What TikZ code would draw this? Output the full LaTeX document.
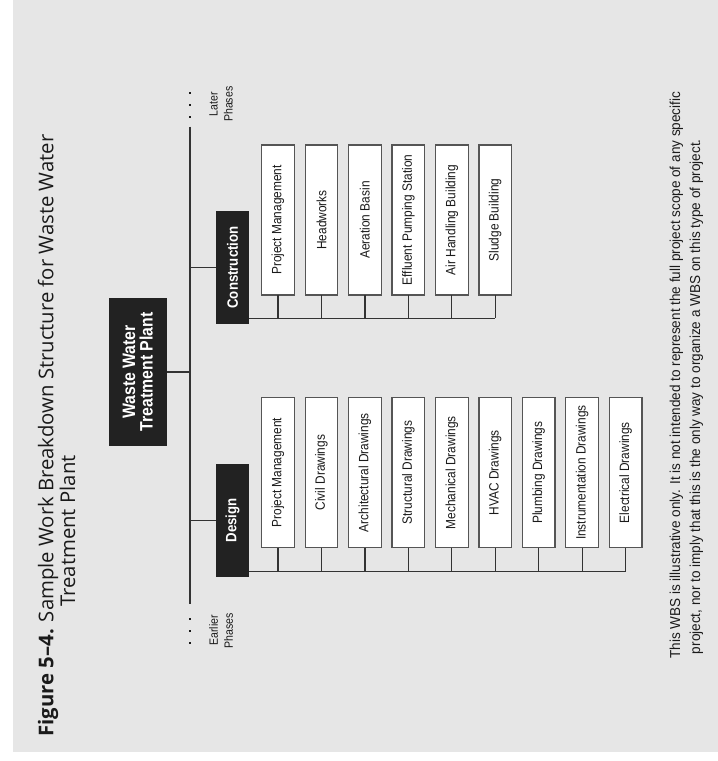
\documentclass[tikz,border=0pt]{standalone}
\usepackage{fontspec}
\setmainfont{Liberation Sans}
\newfontfamily\condfont[FakeStretch=0.88]{Liberation Sans}
\newfontfamily\notefont[FakeStretch=0.94]{Liberation Sans}
\newfontfamily\titlefont{Open Sans}
\definecolor{bggray}{HTML}{E6E6E6}
\definecolor{boxdark}{HTML}{222222}
\definecolor{boxedge}{HTML}{555555}
\definecolor{linecol}{HTML}{333333}
\definecolor{inkcol}{HTML}{1A1A1A}
\begin{document}
\begin{tikzpicture}[x=1pt,y=-1pt,
  every node/.style={inner sep=0pt,outer sep=0pt,text=inkcol},
  wire/.style={draw=linecol,line width=1.3pt},
  rootbox/.style={rotate=90,fill=boxdark,text=white,align=center,
    minimum width=148pt,minimum height=58pt,
    font=\condfont\bfseries\fontsize{18}{17.5}\selectfont},
  phasebox/.style={rotate=90,fill=boxdark,text=white,
    minimum width=113pt,minimum height=33pt,
    font=\condfont\bfseries\fontsize{15}{17}\selectfont},
  itembox/.style={rotate=90,draw=boxedge,fill=white,line width=1.2pt,
    minimum width=150pt,minimum height=32.6pt,
    font=\condfont\fontsize{13.5}{16}\selectfont},
  sidenote/.style={rotate=90,align=center,
    font=\condfont\fontsize{12}{15}\selectfont},
  footnote/.style={rotate=90,anchor=base west,
    font=\notefont\fontsize{14.4}{17}\selectfont},
  titletext/.style={rotate=90,anchor=base west,
    font=\titlefont\fontsize{20.3}{24}\selectfont}]

% page and panel
\fill[white] (0,0) rectangle (718,761);
\fill[bggray] (13,0) rectangle (718,752);
\useasboundingbox (0,0) rectangle (718,761);

% caption
\node[titletext] (title1) at (53.3,736.5)
  {\textbf{Figure 5–4.} Sample Work Breakdown Structure for Waste Water};
\node[titletext] (title2) at (75,606.7) {Treatment Plant};

% root and the phase spine
\node[rootbox] (root) at (137.7,372) {Waste Water\\Treatment Plant};
\coordinate (ttop) at (190,126.7);
\coordinate (tbot) at (190,604);
\draw[wire] (ttop) -- (tbot);
\draw[wire] (root.south) -- (root.south -| ttop);

% continuation marks
\foreach \yy in {92.7,104.7,116.7,619,631,643}
  \fill[inkcol] (188.8,\yy-1.2) rectangle ++(2.4,2.4);
\node[sidenote] (later) at (221,104.2) {Later\\Phases};
\node[sidenote] (earlier) at (221,630.5) {Earlier\\Phases};

% phases
\node[phasebox] (con) at (232.5,267.5) {Construction};
\node[phasebox] (des) at (232.5,520.5) {Design};
\draw[wire] (ttop |- con.north) -- (con.north);
\draw[wire] (ttop |- des.north) -- (des.north);

% construction packages
\coordinate (cbus) at (0,318.3);
\foreach \lab [count=\i from 0] in {Project Management,Headworks,Aeration Basin,
    Effluent Pumping Station,Air Handling Building,Sludge Building}
  \node[itembox] (c\i) at (278+43.45*\i,220) {\lab};
\draw[wire] (con.south |- cbus) -- (c5.west |- cbus);
\foreach \i in {0,...,5}
  \draw[wire] (c\i.west) -- (c\i.west |- cbus);

% design packages
\coordinate (dbus) at (0,571.7);
\foreach \lab [count=\i from 0] in {Project Management,Civil Drawings,
    Architectural Drawings,Structural Drawings,Mechanical Drawings,
    HVAC Drawings,Plumbing Drawings,Instrumentation Drawings,Electrical Drawings}
  \node[itembox] (d\i) at (278+43.45*\i,472.6) {\lab};
\draw[wire] (des.south |- dbus) -- (d8.west |- dbus);
\foreach \i in {0,...,8}
  \draw[wire] (d\i.west) -- (d\i.west |- dbus);

% disclaimer
\node[footnote] (note1) at (680,658.5)
  {This WBS is illustrative only. It is not intended to represent the full project scope of any specific};
\node[footnote] (note2) at (700,654)
  {project, nor to imply that this is the only way to organize a WBS on this type of project.};
\end{tikzpicture}
\end{document}
